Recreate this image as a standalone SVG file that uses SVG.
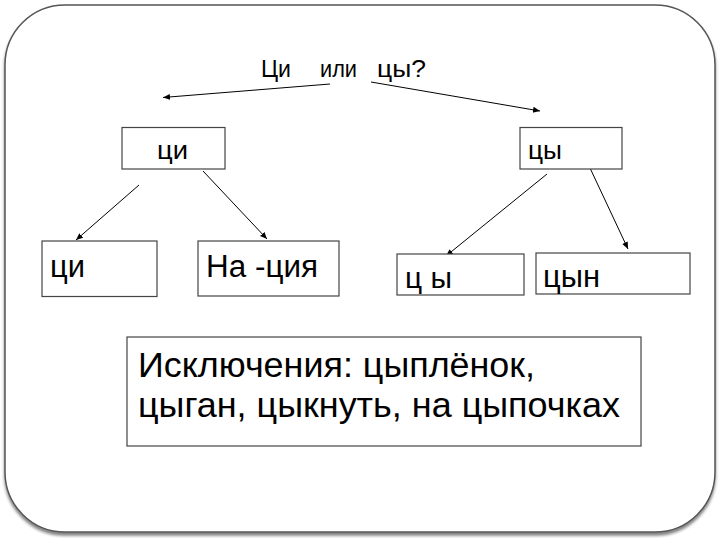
<svg xmlns="http://www.w3.org/2000/svg" width="720" height="540" viewBox="0 0 720 540">
<defs>
<marker id="ah" markerWidth="8" markerHeight="8" refX="7" refY="4" orient="auto" markerUnits="userSpaceOnUse">
<path d="M0,1 L7,4 L0,7 Z" fill="#000"/>
</marker>
<filter id="sh" x="-5%" y="-5%" width="110%" height="110%">
<feGaussianBlur in="SourceAlpha" stdDeviation="1.5"/>
<feOffset dx="0" dy="2.5"/>
<feComponentTransfer><feFuncA type="linear" slope="0.5"/></feComponentTransfer>
<feMerge><feMergeNode/><feMergeNode in="SourceGraphic"/></feMerge>
</filter>
</defs>
<style>
.box{fill:#fff;stroke:#444;stroke-width:1.2}
.t{font-family:"Liberation Sans",Arial,sans-serif;fill:#000}
.c{stroke:#000;stroke-width:1;fill:none;marker-end:url(#ah)}
</style>
<rect width="720" height="540" fill="#fff"/>
<rect x="5" y="5" width="710" height="527" rx="60" ry="60" fill="#fff" stroke="#555" stroke-width="1.5" filter="url(#sh)"/>
<g id="title">
<text class="t" x="261" y="77" font-size="23" textLength="30" lengthAdjust="spacingAndGlyphs">Ци</text>
<text class="t" x="320" y="77" font-size="23" textLength="37" lengthAdjust="spacingAndGlyphs">или</text>
<text class="t" x="377" y="77" font-size="23" textLength="49" lengthAdjust="spacingAndGlyphs">цы?</text>
</g>
<g id="connectors">
<line class="c" x1="330" y1="84" x2="163" y2="97.5"/>
<line class="c" x1="371" y1="82" x2="540" y2="111"/>
<line class="c" x1="139" y1="185" x2="76" y2="240"/>
<line class="c" x1="203" y1="171" x2="267" y2="239"/>
<line class="c" x1="547" y1="174" x2="446" y2="256"/>
<line class="c" x1="590" y1="168" x2="628" y2="249"/>
</g>
<g id="n-ci-top">
<rect class="box" x="122" y="127.5" width="103" height="41.5"/>
<text class="t" x="157" y="159" font-size="26" textLength="31" lengthAdjust="spacingAndGlyphs">ци</text>
</g>
<g id="n-cy-top">
<rect class="box" x="520" y="127.5" width="102" height="41.5"/>
<text class="t" x="528" y="159" font-size="26" textLength="34" lengthAdjust="spacingAndGlyphs">цы</text>
</g>
<g id="n-ci">
<rect class="box" x="42" y="241" width="115" height="55.5"/>
<text class="t" x="50" y="277" font-size="31" textLength="35" lengthAdjust="spacingAndGlyphs">ци</text>
</g>
<g id="n-na-ciya">
<rect class="box" x="198" y="241" width="141" height="55"/>
<text class="t" x="206" y="277" font-size="31" textLength="112" lengthAdjust="spacingAndGlyphs">На -ция</text>
</g>
<g id="n-c-y">
<rect class="box" x="397" y="254" width="127" height="41"/>
<text class="t" x="405" y="288" font-size="30" textLength="47" lengthAdjust="spacingAndGlyphs">ц ы</text>
</g>
<g id="n-cyn">
<rect class="box" x="536" y="253" width="154" height="41"/>
<text class="t" x="543" y="287" font-size="31" textLength="57" lengthAdjust="spacingAndGlyphs">цын</text>
</g>
<g id="n-exceptions">
<rect class="box" x="127" y="337" width="514" height="109"/>
<text class="t" x="138" y="377" font-size="35" textLength="397" lengthAdjust="spacingAndGlyphs">Исключения: цыплёнок,</text>
<text class="t" x="138" y="417" font-size="35" textLength="482" lengthAdjust="spacingAndGlyphs">цыган, цыкнуть, на цыпочках</text>
</g>
</svg>
